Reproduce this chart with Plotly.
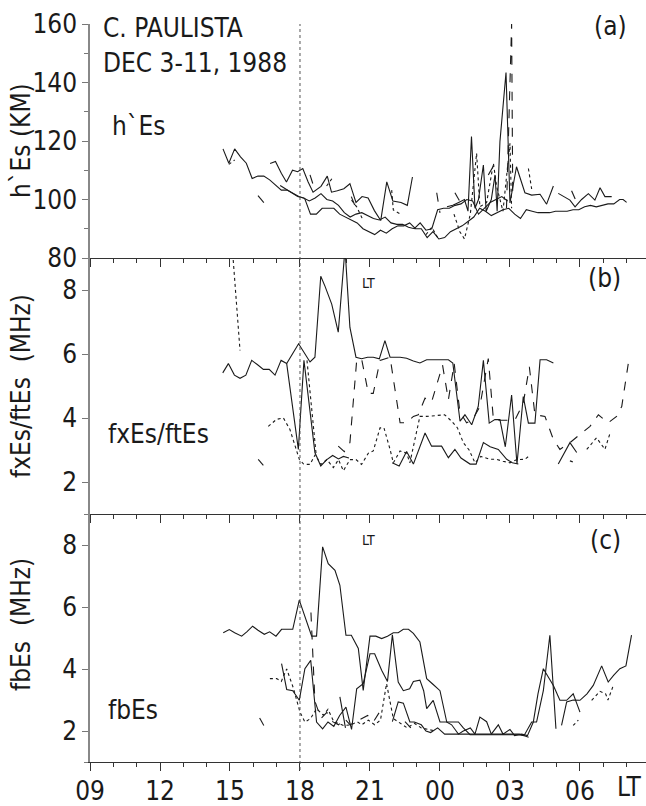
import plotly.graph_objects as go

# ---------------- data (hours; >24 means next day) ----------------
# Panel (a) h'Es (km)
a_s1_h = [14.7, 14.95, 15.2, 15.45, 15.7, 15.95, 16.2, 16.45, 16.7, 16.95, 17.2, 17.45, 17.7, 17.95, 18.2,
          18.45, 18.7, 18.95, 19.2, 19.45, 19.7, 19.95, 20.2, 20.45, 20.7, 20.95, 21.2, 21.45, 21.7, 21.95,
          22.2, 22.45, 22.7, 22.95, 23.2, 23.45, 23.7, 23.95, 24.2, 24.45, 24.7, 24.95, 25.2, 25.45, 25.7,
          25.95, 26.2, 26.45, 26.7, 26.95, 27.2, 27.45, 27.7, 27.95, 28.2, 28.45, 28.7, 28.95, 29.2, 29.45,
          29.7, 29.95, 30.2, 30.45, 30.7, 30.95, 31.2, 31.45, 31.7, 31.85, 32.0]
a_s1_v = [117.3, 112.4, 117.3, 114.6, 112.4, 107.2, 108, 108, 106.7, 105, 103.2, 103.2, 102.1, 101, 100.4,
          95, 95, 97, 97, 97, 95, 94, 93, 92, 90, 89, 88, 89.5, 88.5, 90,
          91, 91, 92, 90, 90, 87, 89, 86.5, 87, 89, 90, 91, 92.5, 94, 97,
          96, 94.5, 95.5, 96.5, 97, 95, 93.5, 96.5, 96, 95.5, 95.5, 95.5, 96, 96, 96,
          96.5, 96.5, 97.5, 98, 97.5, 98, 98.5, 98.5, 100, 100, 99]
a_s2_h = [17.15, 17.4, 17.65, 17.9, 18.15, 18.4, 18.65, 18.9, 19.15, 19.4, 19.65, 19.9, 20.15, 20.4, 20.65,
          20.9, 21.15, 21.4, 21.65, 21.9, 22.15, 22.4, 22.65, 22.9, 23.15, 23.4, 23.65, 23.9, 24.15, 24.4,
          24.65, 24.9, 25.15, 25.4, 25.65, 25.9, 26.15, 26.4, 26.65, 26.9]
a_s2_v = [104.8, 103.5, 102, 101, 100.5, 99.5, 100.5, 102, 100, 99.5, 98, 95.5, 94, 95, 95.5,
          94.5, 93.5, 93, 94, 92, 91.5, 91.5, 90.5, 90, 92, 89.5, 90, 96.5, 97, 97,
          98, 98.5, 100, 99.5, 95, 97, 99, 100, 101, 99.5]
a_s3_h = [16.72, 16.95, 17.2, 17.42, 17.68, 17.9, 18.12, 18.35, 18.56, 18.9, 19.17, 19.35, 19.6, 19.88, 20.14,
          20.4, 20.66, 20.92, 21.19, 21.46, 21.72, 21.98, 22.33, 22.6, 22.82, None,
          24.3, 24.55, 24.8, 25.05, 25.2, 25.35, 25.5, 25.65, 25.86, 25.98, 26.2, 26.36, 26.45, 26.57, 26.83, 27.0,
          27.28, 27.64, 27.93, 28.29, 28.57, 28.86]
a_s3_v = [112.3, 113, 109, 106, 110, 109.5, 110.6, 106, 102.5, 104.5, 108, 102.5, 103, 103.7, 105.4,
          99, 101, 100.5, 96.2, 92.8, 106, 99.5, 99, 98, 107.7, None,
          97.5, 98, 99, 100, 96, 121.5, 97, 100, 111.8, 96, 100, 108.4, 96, 119.8, 143.4, 98.8,
          111.2, 102.3, 101.5, 101.8, 98.4, 104.6]
a_s4_h = [29.07, 29.32, 29.57, 29.79, 30.07, 30.36, 30.64, 30.86, 31.07, 31.36]
a_s4_v = [102.1, 101, 99.8, 97.5, 100, 102, 99.8, 104, 101, 101]
a_dash_h = [18.43, 18.64, None, 20.2, 20.45, None, 23.86, 24.0, None, 24.64, 24.86, None,
            26.07, 26.36, None, 26.85, 27.07, 27.12, None, 29.64, 29.86]
a_dash_v = [108.4, 103.2, None, 101, 96, None, 102.3, 95.4, None, 102.3, 99.2, None,
            108.4, 112.4, None, 97, 160, 100, None, 103, 99]
a_dot_h = [14.95, 15.2, None, 19.14, 19.43, None, 20.21, 20.43, 20.7, None, 21.93, 22.0, 22.3, None,
           23.4, 23.65, 23.9, None, 24.6, 24.85, 25.05, 25.3, 25.57, 25.71, 26.0, 26.29, 26.43, 26.7,
           27.0, 27.07, None, 27.79, 27.93]
a_dot_v = [112, 113.5, None, 104.6, 107.8, None, 99.8, 97.5, 93, None, 103.2, 96.4, 95, None,
           88, 90.5, 87, None, 95, 89, 86.5, 95, 115.8, 97.5, 99, 112.4, 104.4, 96,
           119.2, 97, None, 110.6, 103.6]
a_dd_h = [16.2, 16.5]
a_dd_v = [101.3, 98.5]

# Panel (b) fxEs/ftEs (MHz)
b_s1_h = [14.69, 14.93, 15.19, 15.43, 15.68, 15.93, 16.17, 16.43, 16.68, 16.93, 17.19, 17.43, 17.94, 18.43,
          18.64, 18.89, 19.07, 19.36, 19.64, 19.93, 20.14, 20.4, 20.64, 20.9, 21.14, 21.4, 21.64, 21.86,
          22.29, 22.57, 22.86, 23.14, 23.43, 24.36, 24.55, 24.86, 25.07, 25.36, 25.64, 25.86, 26.11, 26.35,
          26.57, 26.8, 27.07, 27.3, 27.57, 27.79, 28.07, 28.29, 28.57, 28.86]
b_s1_v = [5.41, 5.7, 5.34, 5.24, 5.34, 5.8, 5.67, 5.52, 5.52, 5.34, 5.8, 5.7, 6.32, 5.75,
          5.9, 8.43, 8.12, 7.56, 6.68, 9.3, 6.83, 5.9, 5.85, 5.9, 5.9, 5.85, 6.42, 5.9,
          5.9, 5.87, 5.78, 5.72, 5.82, 5.82, 5.72, 3.9, 4.1, 3.79, 4.36, 5.8, 3.84, 3.95,
          3.95, 3.1, 4.72, 2.56, 4.67, 3.84, 3.84, 5.82, 5.82, 5.72]
b_s2_h = [17.43, 17.93, 18.17, 18.64, 18.89, 19.15, 19.4, 19.65, 19.86, 20.1, None,
          21.95, 22.25, 22.57, 22.86, 23.36, 23.64, 24.07, 24.36, 24.64, 24.9, 25.29, 25.55, 25.86, 26.15,
          26.5, 26.86, 27.1, 27.36, None, 29.07, 29.57, 29.86]
b_s2_v = [5.7, 3.02, 5.8, 2.92, 2.5, 2.7, 2.83, 2.72, 2.8, 2.75, None,
          2.6, 2.5, 2.95, 2.56, 3.53, 3.12, 3.12, 2.76, 3.02, 2.75, 2.56, 2.56, 3.23, 3.1,
          3.02, 2.71, 2.6, 2.56, None, 2.56, 3.23, 2.92]
b_dash_h = [19.64, 19.9, 20.14, 20.43, 20.64, 20.93, 21.14, 21.43, 21.86, 22.29, 22.57, 22.86, 23.07, 23.36,
            23.64, 24.11, 24.36, 24.61, 24.85, 25.14, 25.4, 25.71, 26.07, 26.29, 26.57, 26.86, 27.21, 27.57,
            27.83, 28.07, 28.5, 28.86, 29.14, 29.57, 30.07, 30.43, 30.79, 31.21, 31.57, 31.79, 32.07]
b_dash_v = [3.12, 2.95, 3.23, 5.8, 5.85, 4.77, 4.77, 5.8, 5.9, 3.85, 3.85, 4.05, 4.1, 4.62,
            4.5, 5.65, 4.57, 5.7, 4.2, 3.85, 3.95, 4.36, 5.86, 3.95, 3.93, 3.93, 3.93, 4.46,
            5.6, 4.1, 4.05, 3.33, 3.02, 3.23, 3.53, 3.74, 4.1, 3.85, 4.05, 4.36, 5.7]
b_dot_h = [15.08, 15.43, None, 16.64, 17.0, 17.29, 17.57, 17.97, 18.17, 18.43, 18.65, 18.9, 19.15, 19.43,
           19.65, 19.86, 20.14, 20.4, 20.64, 20.93, 21.14, 21.43, 21.6, 21.86, 22.0, 22.29, 22.57, 22.71,
           23.14, 23.43, 24.0, 24.2, 24.5, 24.75, 25.0, 25.25, 25.5, 25.75, 26.14, 26.4, 26.7, 27.0, 27.3,
           27.64, 27.8, None, 29.57, 29.8, None, 30.29, 30.71, 31.07, 31.29, None, 18.3, 18.5, 18.7]
b_dot_v = [9.5, 6.11, None, 3.74, 3.96, 4.0, 3.64, 2.71, 2.55, 2.55, 2.85, 2.55, 2.7, 2.45,
           2.7, 2.35, 2.7, 2.7, 2.55, 2.9, 2.97, 3.69, 3.69, 3.02, 2.6, 2.97, 2.9, 2.6,
           4.05, 4.05, 4.1, 4.1, 3.9, 3.69, 3.23, 3.0, 2.6, 2.8, 2.71, 2.71, 2.65, 2.6, 2.7,
           2.71, 2.8, None, 2.66, 2.6, None, 3.02, 3.38, 3.02, 3.53, None, 5.8, 4.2, 2.8]
b_dd_h = [16.21, 16.43]
b_dd_v = [2.71, 2.52]

# Panel (c) fbEs (MHz)
c_s1_h = [14.71, 14.97, 15.2, 15.5, 15.72, 15.97, 16.2, 16.47, 16.7, 16.97, 17.21, 17.45, 17.69, 17.97,
          18.25, 18.5, 18.71, 18.97, 19.21, 19.5, 19.71, 19.97, 20.2, 20.5, 20.71, 21.0, 21.25, 21.5,
          21.75, 22.0, 22.21, 22.43, 22.65, 22.86, 23.14, 23.43, 23.71, 24.0, 24.29, 24.5, 24.79, 25.0,
          25.29, 25.6, 26.0, 26.4, 26.8, 27.1, 27.36, 27.6, 27.93, 28.14, 28.43, 28.71, 28.97]
c_s1_v = [5.17, 5.27, 5.17, 5.06, 5.2, 5.38, 5.25, 5.12, 5.2, 5.06, 5.28, 5.28, 5.28, 6.22,
          5.6, 5.06, 5.06, 7.94, 7.4, 7.18, 6.7, 5.09, 5.09, 4.66, 3.31, 5.06, 5.06, 4.98,
          5.06, 5.17, 5.17, 5.28, 5.28, 5.15, 4.87, 3.69, 3.5, 3.3, 2.29, 2.29, 2.29, 2.1,
          1.88, 1.88, 1.88, 1.88, 1.88, 1.88, 1.88, 1.85, 2.29, 2.29, 3.3, 5.09, 2.07]
c_s2_h = [17.21, 17.43, 17.69, 17.97, 18.21, 18.46, 18.71, 18.97, 19.2, 19.45, 19.7, 19.97, 20.21, 20.43,
          20.71, 21.0, 21.2, 21.5, 21.75, 21.96, 22.21, 22.43, 22.7, 22.86, 23.14, 23.3, 23.43, 23.71, 24.0,
          24.29, 24.5, 24.79, 25.0, 25.3, 25.5, 25.71, 26.0, 26.2, 26.5, 26.7, 27.0, 27.2, 27.5, 27.75,
          28.0, 28.2, 28.43, 28.86, 29.14, 29.43, 29.71, 30.0]
c_s2_v = [4.17, 3.34, 3.3, 2.99, 4.01, 4.28, 2.29, 2.07, 2.29, 2.15, 2.5, 2.77, 2.05, 3.36,
          3.53, 4.49, 4.49, 3.96, 3.6, 5.1, 3.58, 3.3, 3.36, 3.6, 3.64, 3.3, 2.72, 2.99, 2.29,
          2.29, 2.2, 1.9, 2.0, 2.1, 1.9, 2.45, 2.3, 1.9, 2.2, 1.9, 2.05, 1.85, 1.9, 1.85,
          2.29, 3.2, 4.01, 3.47, 2.99, 2.99, 3.2, 2.61]
c_s3_h = [19.71, 19.95, None, 21.96, 22.21, 22.43, 22.71, 22.9, 23.2, 23.4, 23.6, 23.9, 24.2, 24.5,
          24.8, 25.2, 25.6, 26.0, 26.5, 27.0, 27.4, 27.8]
c_s3_v = [3.1, 2.1, None, 2.3, 2.94, 2.9, 2.29, 2.29, 2.2, 2.0, 1.95, 2.1, 1.9, 1.9,
          1.9, 1.9, 1.9, 1.9, 1.9, 1.9, 1.9, 1.8]
c_s4_h = [29.21, 29.43, 29.71, 30.0, 30.3, 30.57, 30.93, 31.21, 31.45, 31.71, 31.97, 32.21]
c_s4_v = [2.18, 2.94, 3.0, 2.99, 3.2, 3.47, 4.1, 3.58, 3.8, 4.01, 4.1, 5.09]
c_dash_h = [18.47, 18.64, 18.9, 19.15, 19.4, 19.65, 19.9, 20.15, 20.4, 20.65, 20.9, 21.15, 21.4, 21.6,
            None, 22.5, 22.75]
c_dash_v = [5.82, 2.96, 2.4, 2.6, 2.3, 2.2, 2.4, 2.2, 2.3, 2.4, 2.5, 2.3, 2.6, 2.6,
            None, 2.3, 2.1]
c_dot_h = [16.71, 17.0, 17.2, 17.43, 17.71, 18.0, 18.21, 18.45, 18.71, 19.0, 19.2, 19.45, 19.86, 20.2,
           20.45, 20.65, 20.93, 21.2, 21.45, 21.71, 22.0, 22.3, 22.6, 22.9, 23.2, 23.5, 23.8, None,
           29.71, 29.93, None, 30.5, 30.86, 31.1, 31.2, 31.43]
c_dot_v = [3.69, 3.69, 3.6, 4.0, 3.4, 2.61, 2.29, 2.4, 2.72, 2.51, 2.7, 2.3, 2.18, 2.2,
           2.3, 2.2, 2.35, 2.2, 2.35, 3.53, 2.4, 2.25, 2.1, 2.25, 2.1, 2.05, 2.0, None,
           2.18, 2.35, None, 2.99, 3.28, 3.2, 3.0, 3.47]
c_dd_h = [16.27, 16.45]
c_dd_v = [2.42, 2.18]

x_tickvals = [9, 12, 15, 18, 21, 24, 27, 30]
x_ticktext = ["09", "12", "15", "18", "21", "00", "03", "06"]

# ---------------- figure ----------------
FONT = "DejaVu Sans Condensed, Liberation Sans Narrow, Liberation Sans, Arial, sans-serif"
FS = 26
INK = "#1a1a1a"
fig = go.Figure()

def add(h, v, dash, xa, ya, w=1.1):
    fig.add_trace(go.Scatter(x=h, y=v, mode="lines", xaxis=xa, yaxis=ya,
                             line=dict(color=INK, width=w, dash=dash),
                             connectgaps=False, showlegend=False, hoverinfo="skip"))

for xa, ya, series in [
    ("x", "y", [(a_s1_h, a_s1_v, "solid"), (a_s2_h, a_s2_v, "solid"), (a_s3_h, a_s3_v, "solid"),
                (a_s4_h, a_s4_v, "solid"), (a_dash_h, a_dash_v, "dash"), (a_dot_h, a_dot_v, "dot"),
                (a_dd_h, a_dd_v, "dashdot")]),
    ("x2", "y2", [(b_s1_h, b_s1_v, "solid"), (b_s2_h, b_s2_v, "solid"), (b_dash_h, b_dash_v, "dash"),
                  (b_dot_h, b_dot_v, "dot"), (b_dd_h, b_dd_v, "dashdot")]),
    ("x3", "y3", [(c_s1_h, c_s1_v, "solid"), (c_s2_h, c_s2_v, "solid"), (c_s3_h, c_s3_v, "solid"),
                  (c_s4_h, c_s4_v, "solid"), (c_dash_h, c_dash_v, "dash"), (c_dot_h, c_dot_v, "dot"),
                  (c_dd_h, c_dd_v, "dashdot")]),
]:
    for h, v, d in series:
        add(h, v, d, xa, ya)

TOP, BOT, H = 24, 762, 806
def py(p):  # pixel row -> paper
    return (BOT - p) / (BOT - TOP)

dom_a = [py(258), 1]
dom_b = [py(514), py(258)]
dom_c = [0, py(514)]

xcommon = dict(range=[9, 32.83], tickvals=x_tickvals, ticktext=x_ticktext,
               ticks="outside", ticklen=8, tickwidth=1.2, tickcolor="#333",
               showline=True, linecolor="#333", linewidth=1.3, showgrid=False, zeroline=False,
               minor=dict(dtick=1, tick0=9, ticks="outside", ticklen=4, tickwidth=1, tickcolor="#333"),
               tickfont=dict(family=FONT, size=FS, color=INK))
ycommon = dict(ticks="outside", ticklen=6, tickwidth=1.2, tickcolor="#777",
               showline=True, linecolor="#888", linewidth=1.5, showgrid=False, zeroline=False,
               tickfont=dict(family=FONT, size=FS, color=INK))

fig.update_layout(
    width=646, height=806, paper_bgcolor="white", plot_bgcolor="white",
    margin=dict(l=90, r=0, t=TOP, b=H - BOT, autoexpand=False),
    font=dict(family=FONT, color=INK),
    xaxis=dict(**xcommon, anchor="y", showticklabels=False),
    xaxis2=dict(**xcommon, anchor="y2", matches="x", showticklabels=False),
    xaxis3=dict(**xcommon, anchor="y3", matches="x", ticklabelstandoff=-2),
    yaxis=dict(**ycommon, domain=dom_a, range=[80, 160], tickvals=[80, 100, 120, 140, 160],
               minor=dict(tickvals=[90, 110, 130, 150], ticks="outside", ticklen=4, tickcolor="#777")),
    yaxis2=dict(**ycommon, domain=dom_b, range=[1, 9], tickvals=[2, 4, 6, 8],
                minor=dict(tickvals=[1], ticks="outside", ticklen=4, tickcolor="#777")),
    yaxis3=dict(**ycommon, domain=dom_c, range=[1, 9], tickvals=[2, 4, 6, 8],
                minor=dict(tickvals=[1, 9], ticks="outside", ticklen=4, tickcolor="#777")),
)

# vertical dotted reference line at 18 LT
fig.add_shape(type="line", xref="x", yref="paper", x0=18, x1=18, y0=py(770), y1=1,
              line=dict(color="#555", width=1, dash="dot"))

def px_x(p):
    return (p - 90) / 556

ann = []
def txt(t, x, y, size, xanchor="left", angle=0, xref="paper", yref="paper"):
    ann.append(dict(text=t, x=x, y=y, xref=xref, yref=yref, showarrow=False, xanchor=xanchor,
                    yanchor="middle", textangle=angle, font=dict(family=FONT, size=size, color=INK)))

txt("C. PAULISTA", px_x(101), py(28), FS)
txt("DEC 3-11, 1988", px_x(101), py(63), FS)
txt("(a)", px_x(610), py(26), FS, "center")
txt("(b)", px_x(604), py(278), FS, "center")
txt("(c)", px_x(605), py(540), FS, "center")
txt("h`Es", px_x(110), py(126), FS)
txt("fxEs/ftEs", px_x(106), py(434), FS)
txt("fbEs", px_x(106), py(710), FS)
txt("LT", 20.93, 8.23, 14, "center", xref="x", yref="y2")
txt("LT", 20.93, 8.15, 14, "center", xref="x", yref="y3")
txt("LT", 32.1, py(787), FS, "center", xref="x")
# rotated axis titles
txt("h`Es (KM)", px_x(21), py(141), FS, "center", angle=-90)
txt("fxEs/ftEs  (MHz)", px_x(21), py(386), FS, "center", angle=-90)
txt("fbEs  (MHz)", px_x(21), py(625), FS, "center", angle=-90)
fig.update_layout(annotations=ann)

# page body has a default 8px margin; remove it so the figure sits at the window origin
fig.write_html("out.html", config={"displayModeBar": False},
               post_script="document.body.style.margin='0';document.body.style.overflow='hidden';")
